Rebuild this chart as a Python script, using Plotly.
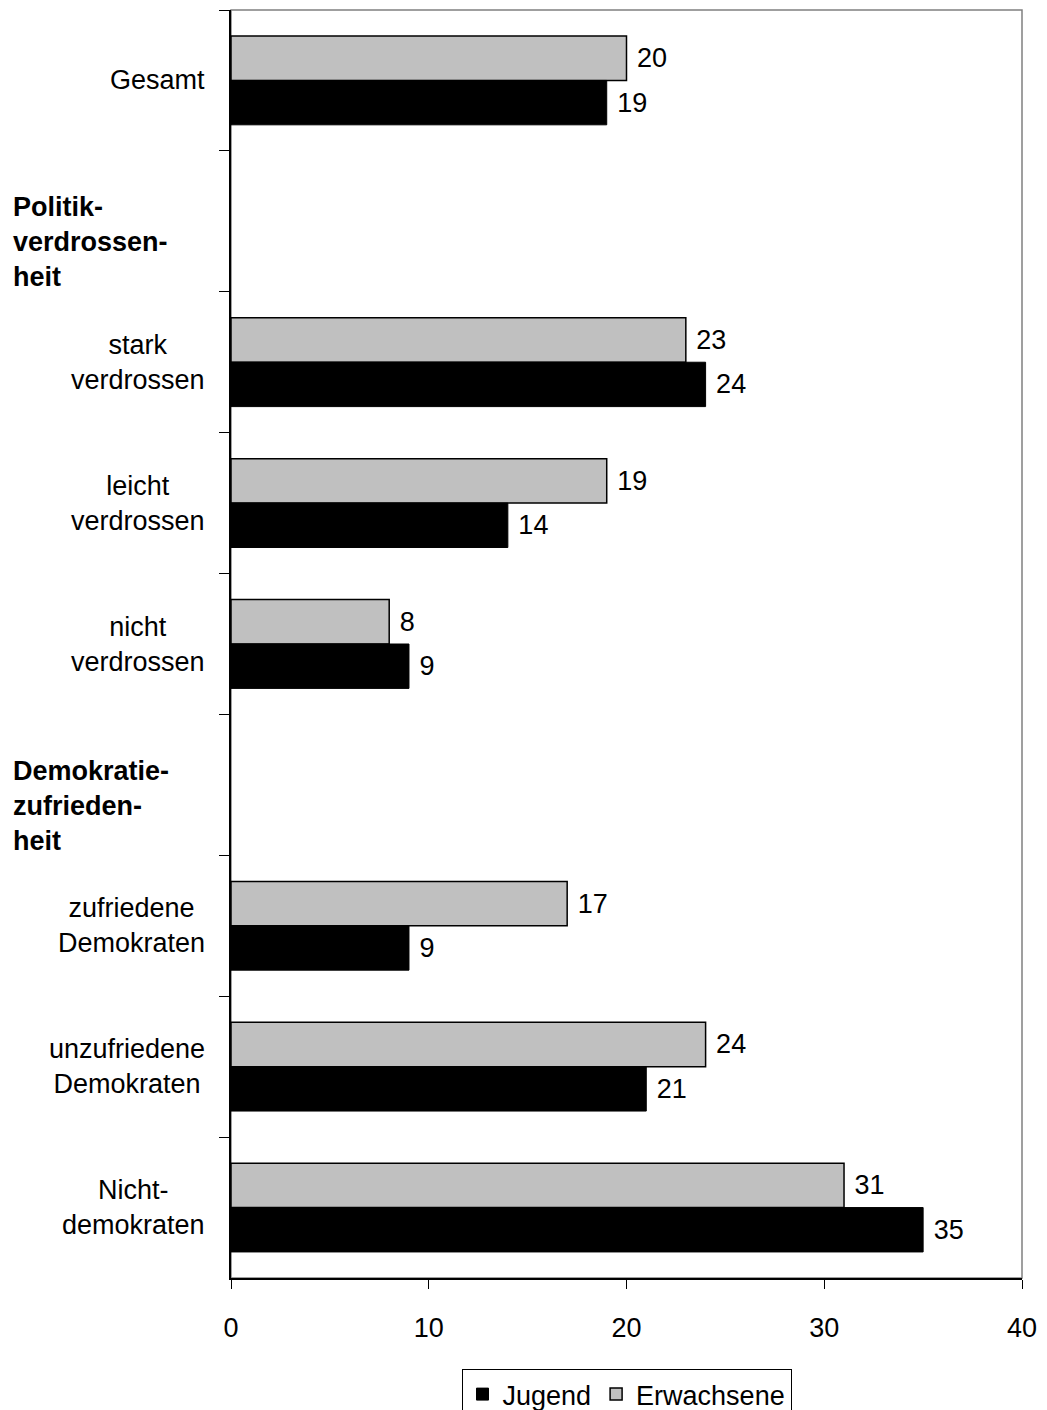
import plotly.graph_objects as go

# categories top to bottom (two header rows carry no bars)
categories = ["Gesamt", "Politikverdrossenheit", "stark verdrossen", "leicht verdrossen",
              "nicht verdrossen", "Demokratiezufriedenheit", "zufriedene Demokraten",
              "unzufriedene Demokraten", "Nichtdemokraten"]
labels = ["Gesamt", "Politik-<br>verdrossen-<br>heit", "stark<br>verdrossen",
          "leicht<br>verdrossen", "nicht<br>verdrossen", "Demokratie-<br>zufrieden-<br>heit",
          "zufriedene<br>Demokraten", "unzufriedene<br>Demokraten", "Nicht-<br>demokraten"]
is_header = [False, True, False, False, False, True, False, False, False]

jugend = [19, None, 24, 14, 9, None, 9, 21, 35]
erwachsene = [20, None, 23, 19, 8, None, 17, 24, 31]

FONT = "Liberation Sans, Arial, sans-serif"

fig = go.Figure()
fig.add_trace(go.Bar(
    y=categories, x=erwachsene, orientation="h", name="Erwachsene",
    marker=dict(color="#c0c0c0", line=dict(color="black", width=1.5)),
    text=erwachsene, texttemplate=" %{x}", textposition="outside", cliponaxis=False,
    textfont=dict(size=27, color="black", family=FONT), legendrank=2,
))
fig.add_trace(go.Bar(
    y=categories, x=jugend, orientation="h", name="Jugend",
    marker=dict(color="black", line=dict(color="black", width=1)),
    text=jugend, texttemplate=" %{x}", textposition="outside", cliponaxis=False,
    textfont=dict(size=27, color="black", family=FONT), legendrank=1,
))

# category labels as annotations (headers left-aligned and bold)
for cat, lab, head in zip(categories, labels, is_header):
    if head:
        fig.add_annotation(x=0, xref="paper", y=cat, yref="y", text="<b>" + lab + "</b>",
                           xanchor="left", yanchor="middle", align="left", showarrow=False,
                           xshift=-220, yshift=-21, font=dict(size=27, color="black", family=FONT))
    else:
        fig.add_annotation(x=0, xref="paper", y=cat, yref="y", text=lab,
                           xanchor="right", yanchor="middle", align="center", showarrow=False,
                           xshift=-24, font=dict(size=27, color="black", family=FONT))

# gray frame on top/right of plot area
fig.add_shape(type="rect", xref="paper", yref="paper", x0=0, x1=1, y0=0, y1=1,
              line=dict(color="#808080", width=1.5), layer="below")

# page body adds an 8px offset, so the figure is 8px smaller
fig.update_layout(
    width=1039, height=1402,
    margin=dict(l=223, r=25, t=2, b=132),
    paper_bgcolor="white", plot_bgcolor="white",
    barmode="group", bargap=0.37, bargroupgap=0,
    font=dict(family=FONT, size=27, color="black"),
    showlegend=True,
    legend=dict(orientation="h", xref="paper", x=0.5, xanchor="center",
                yref="container", y=0.0292, yanchor="top",
                bordercolor="black", borderwidth=1, font=dict(size=27, family=FONT),
                itemwidth=30),
)
fig.update_xaxes(range=[0, 40], tickvals=[0, 10, 20, 30, 40], showgrid=False, zeroline=False,
                 showline=True, linecolor="black", linewidth=1.5, ticks="outside",
                 ticklen=9, tickcolor="black", ticklabelstandoff=16,
                 tickfont=dict(size=27, family=FONT))
fig.update_yaxes(categoryorder="array", categoryarray=categories, autorange="reversed",
                 showticklabels=False, showgrid=False, showline=True, linecolor="black",
                 linewidth=1.5, ticks="outside", tickson="boundaries", ticklen=10,
                 tickcolor="black")

fig.write_html("out.html")
